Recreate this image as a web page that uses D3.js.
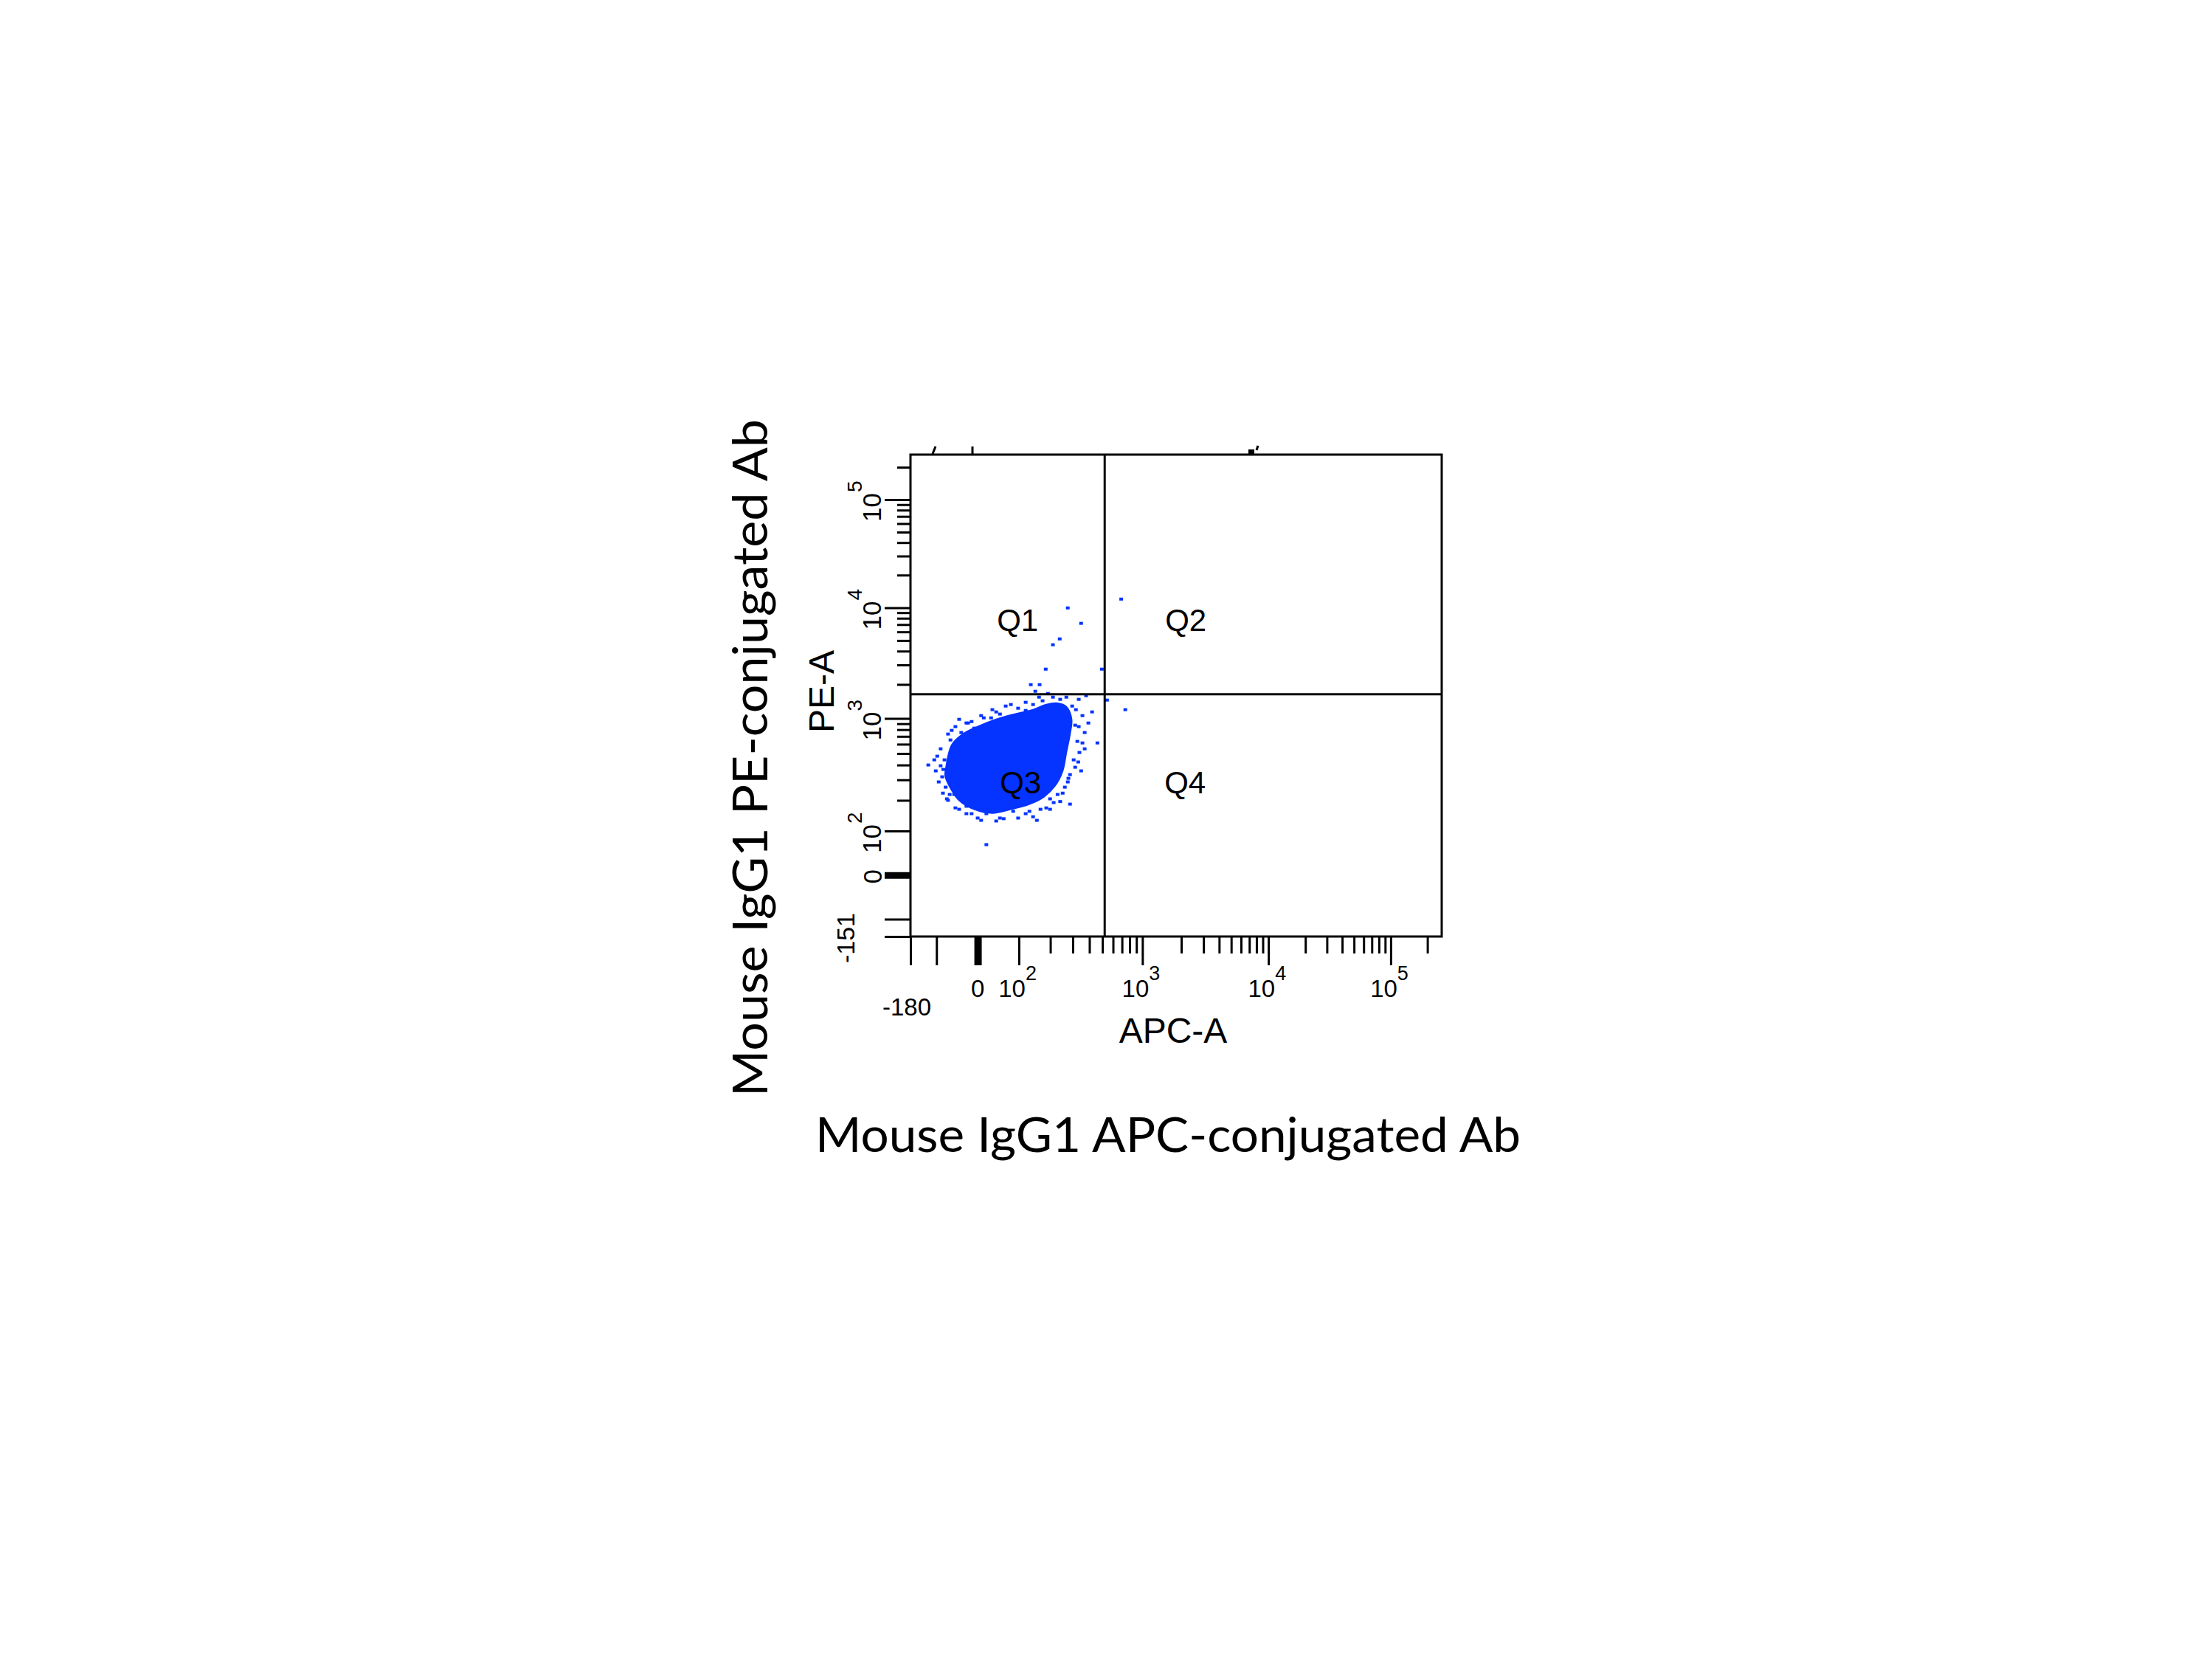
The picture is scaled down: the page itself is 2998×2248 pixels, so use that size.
<!DOCTYPE html>
<html>
<head>
<meta charset="utf-8">
<script src="https://cdn.jsdelivr.net/npm/d3@7/dist/d3.min.js"></script>
<style>
  html, body { margin: 0; padding: 0; background: #ffffff; }
  svg { display: block; }
</style>
</head>
<body>
<div id="chart"></div>
<script>
// ---------------- DATA ----------------
const xTitle = "Mouse IgG1 APC-conjugated Ab";
const yTitle = "Mouse IgG1 PE-conjugated Ab";
const xParam = "APC-A";
const yParam = "PE-A";

const xDomain = [-180, 262144];
const yDomain = [-151, 262144];

const xMajorTicks = [-180, 0, 100, 1000, 10000, 100000];
const xMajorLabels = ["-180", "0", "10^2", "10^3", "10^4", "10^5"];
const yMajorTicks = [-151, 0, 100, 1000, 10000, 100000];
const yMajorLabels = ["-151", "0", "10^2", "10^3", "10^4", "10^5"];
const longMinorTicks = [-100];
const minorTicks = [200, 300, 400, 500, 600, 700, 800, 900,
                    2000, 3000, 4000, 5000, 6000, 7000, 8000, 9000,
                    20000, 30000, 40000, 50000, 60000, 70000, 80000, 90000,
                    200000];

// quadrant gate (APC, PE)
const gateAPC = 520;
const gatePE = 1635;
const quadrants = ["Q1", "Q2", "Q3", "Q4"];

// dense core of the population (outline, data units)
const coreAPC = [-75, -61, -34, 0, 43, 89, 141, 185, 225, 268, 294, 286, 268, 251, 219, 177, 130, 79, 34, -8, -43, -64, -77];
const corePE  = [383, 588, 733, 849, 983, 1092, 1194, 1325, 1364, 1266, 983, 733, 510, 357, 268, 215, 185, 166, 153, 166, 200, 256, 323];

// individual events at the fringe and outliers
const eventAPC = [-123, -89, -79, -85, -76, -73, -55, -43, -31, -64, -38, -8, 14, 31, -14,
                  66, 98, 141, 172, 210, 240, 297, 333, 378,
                  355, 419, 369, 459, 337, 313, 286, 261, 229, 286, 199,
                  165, 141, 119, 85, 61, 43, 8, 20, -14, -26,
                  20, 153, 742, 541, 183, 495, 134, 162, 148, 275, 347, 238, 210, 691,
                  -61, -26, 43, 119, 240, 313, 355, 330, 275, 240, 199, 26, -66, -82,
                  -98, -102, -94, -70, -52, -43, -22, 8, 34, 52, 79, 119, 160, 191, 268, 317, 333, 393,
                  325, 369, 305, 347, 278, 251, 213, 185, 130, 98, 52, 0, -26, -52, -70, -83, -89, -106];
const eventPE  = [400, 548, 442, 318, 260, 206, 225, 166, 652, 652, 755, 824, 1012, 1012, 940,
                  1285, 1230, 1325, 1430, 1540, 1472, 1285, 1472, 1586,
                  1059, 1141, 755, 615, 510, 383, 332, 260, 225, 185, 206,
                  166, 141, 151, 159, 135, 128, 130, 151, 151, 177,
                  66, 130, 1194, 1450, 2745, 2745, 1990, 1990, 1737, 9950, 7180, 5170, 4570, 12000,
                  788, 913, 1141, 1175, 1230, 874, 615, 424, 288, 195, 166, 177, 225, 367,
                  475, 357, 288, 733, 849, 983, 913, 1059, 1194, 1092, 1325, 1387, 1540, 1661, 1540, 1194, 849, 913,
                  634, 548, 442, 357, 309, 231, 191, 171, 159, 137, 137, 137, 151, 171, 200, 231, 394, 442];

// ---------------- LAYOUT ----------------
const W = 2998, H = 2248;
const PLOT = { left: 1234, right: 1954, top: 616, bottom: 1269 };
const BLUE = "#0533ff";
const TICKFONT = "'Liberation Sans', Arial, sans-serif";
const TITLEFONT = "Lato, 'Open Sans', sans-serif";

// biexponential (logicle-like) transform
function makeBiex(K, p) {
  const p2 = p * p;
  const inv = u => { const a = Math.abs(u); return Math.sign(u) * K * (Math.exp(a) - p2 * Math.exp(-a / p) + p2 - 1); };
  const fwd = v => {
    let lo = -30, hi = 30;
    for (let i = 0; i < 90; i++) { const m = (lo + hi) / 2; if (inv(m) < v) lo = m; else hi = m; }
    return (lo + hi) / 2;
  };
  return { fwd, inv };
}
const bx = makeBiex(40.5, 2);
const by = makeBiex(32.5, 2);

const xLin = d3.scaleLinear().domain(xDomain.map(bx.fwd)).range([PLOT.left, PLOT.right]);
const yLin = d3.scaleLinear().domain(yDomain.map(by.fwd)).range([PLOT.bottom, PLOT.top]);
const X = v => xLin(bx.fwd(v));
const Y = v => yLin(by.fwd(v));

const svg = d3.select("#chart").append("svg")
  .attr("width", W).attr("height", H).attr("viewBox", `0 0 ${W} ${H}`);
svg.append("rect").attr("width", W).attr("height", H).attr("fill", "#ffffff");

// ---------------- POPULATION ----------------
const corePts = coreAPC.map((a, i) => [X(a), Y(corePE[i])]);
svg.append("path")
  .attr("d", d3.line().curve(d3.curveCatmullRomClosed.alpha(0.5))(corePts))
  .attr("fill", BLUE).attr("stroke", BLUE).attr("stroke-width", 2);

svg.append("g").selectAll("rect")
  .data(eventAPC.map((a, i) => [a, eventPE[i]]))
  .join("rect")
  .attr("x", d => X(d[0]) - 2.5).attr("y", d => Y(d[1]) - 2)
  .attr("width", 5).attr("height", 4)
  .attr("fill", BLUE);

// ---------------- FRAME & GATES ----------------
svg.append("rect")
  .attr("x", PLOT.left).attr("y", PLOT.top)
  .attr("width", PLOT.right - PLOT.left).attr("height", PLOT.bottom - PLOT.top)
  .attr("fill", "none").attr("stroke", "#000").attr("stroke-width", 3);

svg.append("line")
  .attr("x1", X(gateAPC)).attr("x2", X(gateAPC))
  .attr("y1", PLOT.top).attr("y2", PLOT.bottom)
  .attr("stroke", "#000").attr("stroke-width", 3);
svg.append("line")
  .attr("x1", PLOT.left).attr("x2", PLOT.right)
  .attr("y1", Y(gatePE)).attr("y2", Y(gatePE))
  .attr("stroke", "#000").attr("stroke-width", 3);

// quadrant labels around the gate intersection
const gx = X(gateAPC), gy = Y(gatePE);
const qOffsets = [[-118, -86], [110, -86], [-114, 134], [109, 134]];
svg.append("g").selectAll("text")
  .data(quadrants)
  .join("text")
  .attr("x", (d, i) => gx + qOffsets[i][0])
  .attr("y", (d, i) => gy + qOffsets[i][1])
  .attr("text-anchor", "middle")
  .attr("font-family", TICKFONT).attr("font-size", 42)
  .attr("fill", "#000")
  .text(d => d);

// ---------------- AXES ----------------
function styleAxis(g, width) {
  g.select(".domain").remove();
  g.selectAll(".tick line").attr("stroke", "#000").attr("stroke-width", width);
}
// X axis
svg.append("g").attr("transform", `translate(0,${PLOT.bottom})`)
  .call(d3.axisBottom(xLin).tickValues(xMajorTicks.concat(longMinorTicks).map(bx.fwd)).tickSize(39).tickSizeOuter(0).tickFormat(""))
  .call(g => styleAxis(g, 3))
  .call(g => g.selectAll(".tick line").filter(d => Math.abs(d - bx.fwd(0)) < 1e-9).attr("stroke-width", 10));
svg.append("g").attr("transform", `translate(0,${PLOT.bottom})`)
  .call(d3.axisBottom(xLin).tickValues(minorTicks.map(bx.fwd)).tickSize(23).tickSizeOuter(0).tickFormat(""))
  .call(g => styleAxis(g, 3));
// Y axis
svg.append("g").attr("transform", `translate(${PLOT.left},0)`)
  .call(d3.axisLeft(yLin).tickValues(yMajorTicks.concat(longMinorTicks).map(by.fwd)).tickSize(35).tickSizeOuter(0).tickFormat(""))
  .call(g => styleAxis(g, 3))
  .call(g => g.selectAll(".tick line").filter(d => Math.abs(d - by.fwd(0)) < 1e-9).attr("stroke-width", 9));
svg.append("g").attr("transform", `translate(${PLOT.left},0)`)
  .call(d3.axisLeft(yLin).tickValues(minorTicks.map(by.fwd)).tickSize(18).tickSizeOuter(0).tickFormat(""))
  .call(g => styleAxis(g, 3));

// X tick labels
const xl = svg.append("g").attr("font-family", TICKFONT).attr("fill", "#000");
xMajorTicks.forEach((v, i) => {
  const lab = xMajorLabels[i];
  const tx = X(v);
  if (lab.includes("^")) {
    const [base, exp] = lab.split("^");
    xl.append("text").attr("x", tx + 9).attr("y", 1351).attr("text-anchor", "end")
      .attr("font-size", 33).text(base);
    xl.append("text").attr("x", tx + 9).attr("y", 1328).attr("text-anchor", "start")
      .attr("font-size", 27).text(exp);
  } else if (v < 0) {
    xl.append("text").attr("x", tx - 5).attr("y", 1376).attr("text-anchor", "middle")
      .attr("font-size", 33).text(lab);
  } else {
    xl.append("text").attr("x", tx).attr("y", 1351).attr("text-anchor", "middle")
      .attr("font-size", 33).text(lab);
  }
});
// Y tick labels (rotated)
const yl = svg.append("g").attr("font-family", TICKFONT).attr("fill", "#000");
yMajorTicks.forEach((v, i) => {
  const lab = yMajorLabels[i];
  const ty = Y(v);
  if (lab.includes("^")) {
    const [base, exp] = lab.split("^");
    yl.append("text").attr("transform", `translate(1194,${ty - 9}) rotate(-90)`)
      .attr("text-anchor", "end").attr("font-size", 35).text(base);
    yl.append("text").attr("transform", `translate(1168,${ty - 10}) rotate(-90)`)
      .attr("text-anchor", "start").attr("font-size", 28).text(exp);
  } else if (v < 0) {
    yl.append("text").attr("transform", `translate(1158,${ty + 2}) rotate(-90)`)
      .attr("text-anchor", "middle").attr("font-size", 34).text(lab);
  } else {
    yl.append("text").attr("transform", `translate(1195,${ty + 2}) rotate(-90)`)
      .attr("text-anchor", "middle").attr("font-size", 35).text(lab);
  }
});

// parameter names
svg.append("text").attr("x", 1590).attr("y", 1413).attr("text-anchor", "middle")
  .attr("font-family", TICKFONT).attr("font-size", 48).attr("fill", "#000").text(xParam);
svg.append("text").attr("transform", "translate(1130,937) rotate(-90)").attr("text-anchor", "middle")
  .attr("font-family", TICKFONT).attr("font-size", 48).attr("fill", "#000").text(yParam);

// small cropped marks above the plot frame
const marks = svg.append("g").attr("stroke", "#000").attr("stroke-width", 3);
marks.append("line").attr("x1", 1264).attr("y1", 615).attr("x2", 1268).attr("y2", 605);
marks.append("line").attr("x1", 1318).attr("y1", 616).attr("x2", 1318).attr("y2", 605);
svg.append("rect").attr("x", 1692).attr("y", 609).attr("width", 8).attr("height", 7).attr("fill", "#000");
marks.append("line").attr("x1", 1703).attr("y1", 610).attr("x2", 1705).attr("y2", 604);

// ---------------- TITLES ----------------
svg.append("text").attr("x", 1583).attr("y", 1561).attr("text-anchor", "middle")
  .attr("font-family", TITLEFONT).attr("font-size", 66).attr("fill", "#000")
  .attr("textLength", 956).attr("lengthAdjust", "spacingAndGlyphs")
  .text(xTitle);
svg.append("text").attr("transform", "translate(1040,1027) rotate(-90)").attr("text-anchor", "middle")
  .attr("font-family", TITLEFONT).attr("font-size", 66).attr("fill", "#000")
  .attr("textLength", 918).attr("lengthAdjust", "spacingAndGlyphs")
  .text(yTitle);
</script>
</body>
</html>
